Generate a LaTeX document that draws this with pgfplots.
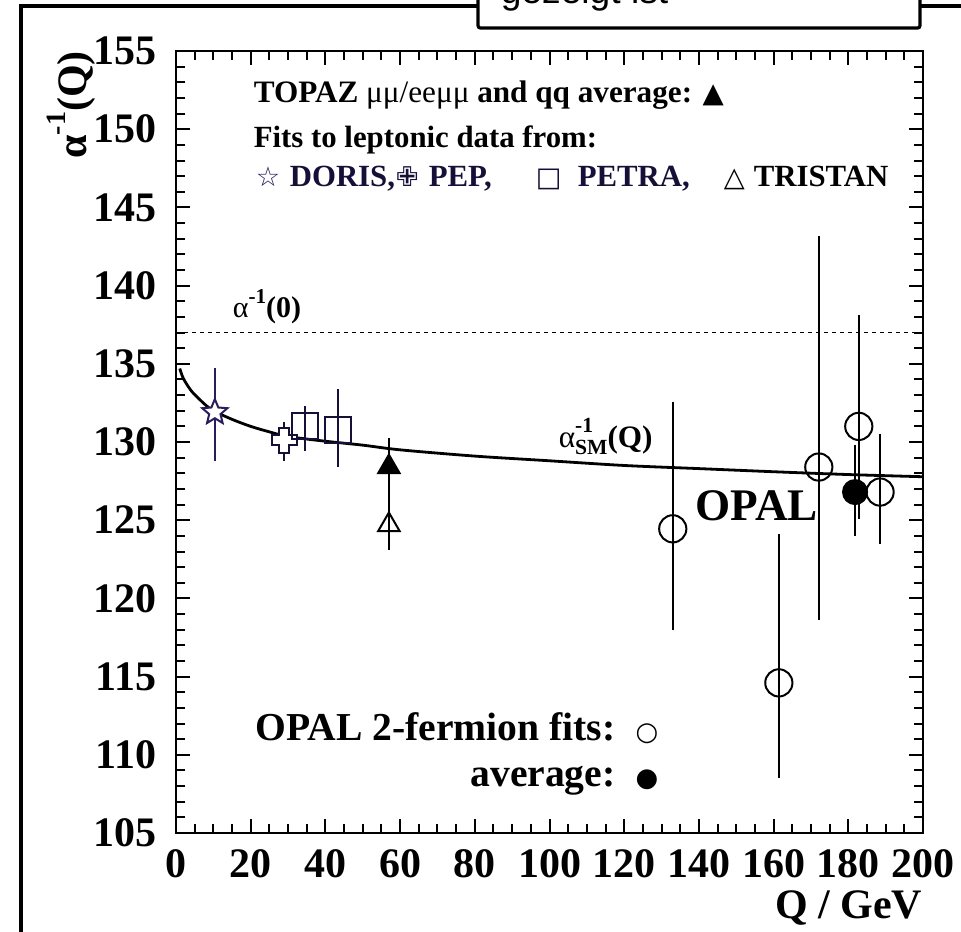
\documentclass[border=0pt]{standalone}
\usepackage{fontspec}
\setmainfont{Liberation Serif}
\newfontfamily\dejavu{DejaVu Sans}
\newfontfamily\lsans{Liberation Sans}
\usepackage{pgfplots}
\pgfplotsset{compat=1.18}
\definecolor{navy}{HTML}{2B1D5C}
\definecolor{darknavy}{HTML}{160F38}
\newcommand\ft[1]{\fontsize{#1}{#1}\selectfont}

\pgfdeclareplotmark{ostar}{%
  \pgfpathmoveto{\pgfpointpolar{90}{\pgfplotmarksize}}%
  \pgfpathlineto{\pgfpointpolar{126}{0.45\pgfplotmarksize}}%
  \pgfpathlineto{\pgfpointpolar{162}{\pgfplotmarksize}}%
  \pgfpathlineto{\pgfpointpolar{198}{0.45\pgfplotmarksize}}%
  \pgfpathlineto{\pgfpointpolar{234}{\pgfplotmarksize}}%
  \pgfpathlineto{\pgfpointpolar{270}{0.45\pgfplotmarksize}}%
  \pgfpathlineto{\pgfpointpolar{306}{\pgfplotmarksize}}%
  \pgfpathlineto{\pgfpointpolar{342}{0.45\pgfplotmarksize}}%
  \pgfpathlineto{\pgfpointpolar{18}{\pgfplotmarksize}}%
  \pgfpathlineto{\pgfpointpolar{54}{0.45\pgfplotmarksize}}%
  \pgfpathclose
  \pgfusepathqfillstroke
}
\pgfdeclareplotmark{ocross}{%
  \pgfpathmoveto{\pgfpoint{-0.4\pgfplotmarksize}{\pgfplotmarksize}}%
  \pgfpathlineto{\pgfpoint{0.4\pgfplotmarksize}{\pgfplotmarksize}}%
  \pgfpathlineto{\pgfpoint{0.4\pgfplotmarksize}{0.4\pgfplotmarksize}}%
  \pgfpathlineto{\pgfpoint{\pgfplotmarksize}{0.4\pgfplotmarksize}}%
  \pgfpathlineto{\pgfpoint{\pgfplotmarksize}{-0.4\pgfplotmarksize}}%
  \pgfpathlineto{\pgfpoint{0.4\pgfplotmarksize}{-0.4\pgfplotmarksize}}%
  \pgfpathlineto{\pgfpoint{0.4\pgfplotmarksize}{-\pgfplotmarksize}}%
  \pgfpathlineto{\pgfpoint{-0.4\pgfplotmarksize}{-\pgfplotmarksize}}%
  \pgfpathlineto{\pgfpoint{-0.4\pgfplotmarksize}{-0.4\pgfplotmarksize}}%
  \pgfpathlineto{\pgfpoint{-\pgfplotmarksize}{-0.4\pgfplotmarksize}}%
  \pgfpathlineto{\pgfpoint{-\pgfplotmarksize}{0.4\pgfplotmarksize}}%
  \pgfpathlineto{\pgfpoint{-0.4\pgfplotmarksize}{0.4\pgfplotmarksize}}%
  \pgfpathclose
  \pgfusepathqfillstroke
}

\begin{document}
\begin{tikzpicture}[x=0.25pt,y=0.25pt]
\path[use as bounding box] (0,0) rectangle (961,-931);
\clip (0,0) rectangle (961,-931);
\fill[white] (0,0) rectangle (961,-931);

% slide frame
\draw[line width=1pt] (21,-935) -- (21,-6) -- (478,-6);
\draw[line width=1pt] (920,-6) -- (965,-6);
\draw[line width=0.8pt, rounded corners=0.6pt, fill=white] (478,20) rectangle (920,-28);
\node[anchor=base west, inner sep=0, font=\lsans\ft{9.3}] at (500,-4) {gezeigt ist};

\begin{axis}[
  at={(44pt,-208.25pt)}, anchor=south west,
  scale only axis, width=186.75pt, height=195.5pt,
  xmin=0, xmax=200, ymin=105, ymax=155,
  xtick={0,20,...,200}, ytick={105,110,...,155},
  minor x tick num=3, minor y tick num=4,
  tick align=inside,
  major tick length=3.6pt, minor tick length=2.2pt,
  tick style={black, line width=0.5pt},
  axis line style={line width=0.6pt},
  ticklabel style={font=\ft{10.5}\bfseries},
  yticklabel style={xshift=-1.3pt},
  xticklabel style={yshift=-0.5pt},
  /pgf/number format/assume math mode=true,
  /pgf/number format/1000 sep={},
]
% SM running curve
\addplot[black, line width=0.7pt, smooth] table {
x y
1 134.7
2 134.05
4 133.3
6 132.8
8 132.35
10 132.0
15 131.45
20 131.0
25 130.65
30 130.35
40 130.05
50 129.8
60 129.5
80 129.1
100 128.8
120 128.5
140 128.3
160 128.1
180 127.92
200 127.78
};
% alpha^-1(0)
\addplot[black, line width=0.35pt, dash pattern=on 1pt off 1pt] coordinates {(0,137) (200,137)};

% DORIS
\addplot[only marks, mark=ostar, mark size=3.3pt,
  mark options={draw=navy, fill=white, line width=0.5pt},
  error bars/.cd, y dir=both, y explicit, error mark=none,
  error bar style={navy, line width=0.5pt}]
  table[x=x, y=y, y error plus=ep, y error minus=em] {
x y ep em
10.4 131.9 2.85 3.1
};
% PEP
\addplot[only marks, mark=ocross, mark size=3.1pt,
  mark options={draw=darknavy, fill=white, line width=0.5pt},
  error bars/.cd, y dir=both, y explicit, error mark=none,
  error bar style={darknavy, line width=0.5pt}]
  table[x=x, y=y, y error plus=ep, y error minus=em] {
x y ep em
29 130.1 1.2 1.3
};
% PETRA
\addplot[only marks, mark=square, mark size=3.25pt,
  mark options={draw=darknavy, fill=white, line width=0.5pt},
  error bars/.cd, y dir=both, y explicit, error mark=none,
  error bar style={darknavy, line width=0.5pt}]
  table[x=x, y=y, y error plus=ep, y error minus=em] {
x y ep em
34.5 131.0 1.3 1.6
43.4 130.8 2.6 2.4
};
% TRISTAN
\addplot[only marks, mark=triangle, mark size=3.1pt,
  mark options={draw=black, fill=white, line width=0.5pt},
  error bars/.cd, y dir=both, y explicit, error mark=none,
  error bar style={black, line width=0.5pt}]
  table[x=x, y=y, y error plus=ep, y error minus=em] {
x y ep em
57 124.7 2.3 1.6
};
% TOPAZ
\addplot[only marks, mark=triangle*, mark size=3.1pt,
  mark options={draw=black, fill=black, line width=0.5pt},
  error bars/.cd, y dir=both, y explicit, error mark=none,
  error bar style={black, line width=0.5pt}]
  table[x=x, y=y, y error plus=ep, y error minus=em] {
x y ep em
57 128.4 1.85 1.8
};
% OPAL fits
\addplot[only marks, mark=o, mark size=3.4pt,
  mark options={draw=black, fill=white, line width=0.5pt},
  error bars/.cd, y dir=both, y explicit, error mark=none,
  error bar style={black, line width=0.5pt}]
  table[x=x, y=y, y error plus=ep, y error minus=em] {
x y ep em
133.0 124.45 8.1 6.5
161.4 114.6 9.5 6.1
172.1 128.4 14.8 9.8
188.5 126.8 3.7 3.3
};
% OPAL average
\addplot[only marks, mark=*, mark size=3.0pt,
  mark options={draw=black, fill=black, line width=0.5pt},
  error bars/.cd, y dir=both, y explicit, error mark=none,
  error bar style={black, line width=0.5pt}]
  table[x=x, y=y, y error plus=ep, y error minus=em] {
x y ep em
181.8 126.8 3.0 2.8
};
\addplot[only marks, mark=o, mark size=3.4pt,
  mark options={draw=black, fill=white, line width=0.5pt},
  error bars/.cd, y dir=both, y explicit, error mark=none,
  error bar style={black, line width=0.5pt}]
  table[x=x, y=y, y error plus=ep, y error minus=em] {
x y ep em
182.8 131.0 7.1 5.9
};
\end{axis}

% axis titles
\node[rotate=90, anchor=base, inner sep=0, font=\ft{10.5}\bfseries] at (86,-105)
  {α\raisebox{1.05ex}{\ft{7}-1}(Q)};
\node[anchor=base east, inner sep=0, font=\ft{10.5}\bfseries] at (923,-918) {Q / GeV};

% in-plot texts
\node[anchor=base west, inner sep=0, font=\ft{7.8}\bfseries] at (253,-102)
  {TOPAZ {\mdseries μμ/eeμμ} and qq average: {\dejavu\ft{6.9}▲}};
\node[anchor=base west, inner sep=0, font=\ft{7.7}\bfseries] at (253,-147)
  {Fits to leptonic data from:};
\node[anchor=base west, inner sep=0, font=\dejavu\ft{6.8}, text=navy] at (255,-186) {☆};
\node[anchor=base west, inner sep=0, font=\ft{7.7}\bfseries, text=darknavy] at (289,-186) {DORIS,};
\node[anchor=base west, inner sep=0, font=\dejavu\ft{6.8}, text=darknavy] at (395,-186) {✙};
\node[anchor=base west, inner sep=0, font=\ft{7.7}\bfseries, text=darknavy] at (428,-186) {PEP,};
\node[anchor=base west, inner sep=0, font=\dejavu\ft{6.8}, text=darknavy] at (535,-186) {□};
\node[anchor=base west, inner sep=0, font=\ft{7.7}\bfseries, text=darknavy] at (577,-186) {PETRA,};
\node[anchor=base west, inner sep=0, font=\dejavu\ft{6.8}] at (723,-186) {△};
\node[anchor=base west, inner sep=0, font=\ft{7.7}\bfseries] at (753,-186) {TRISTAN};

\node[anchor=base west, inner sep=0, font=\ft{7.5}\bfseries] at (232,-317)
  {{\mdseries α}\raisebox{0.95ex}{\ft{5.3}-1}(0)};
\node[anchor=base west, inner sep=0, font=\ft{7.8}\bfseries] at (558,-447)
  {{\mdseries α}\rlap{\raisebox{1.0ex}{\ft{5.4}-1}}\raisebox{-0.55ex}{\ft{5.4}SM}(Q)};
\node[anchor=base west, inner sep=0, font=\ft{11.3}\bfseries] at (695,-520) {OPAL};

\node[anchor=base east, inner sep=0, font=\ft{9.9}\bfseries] at (659,-740)
  {OPAL 2-fermion fits:\hspace{5pt}{\dejavu\ft{6.5}○}};
\node[anchor=base east, inner sep=0, font=\ft{9.9}\bfseries] at (659,-786)
  {average:\hspace{5pt}{\dejavu\ft{6.5}●}};
\end{tikzpicture}
\end{document}
